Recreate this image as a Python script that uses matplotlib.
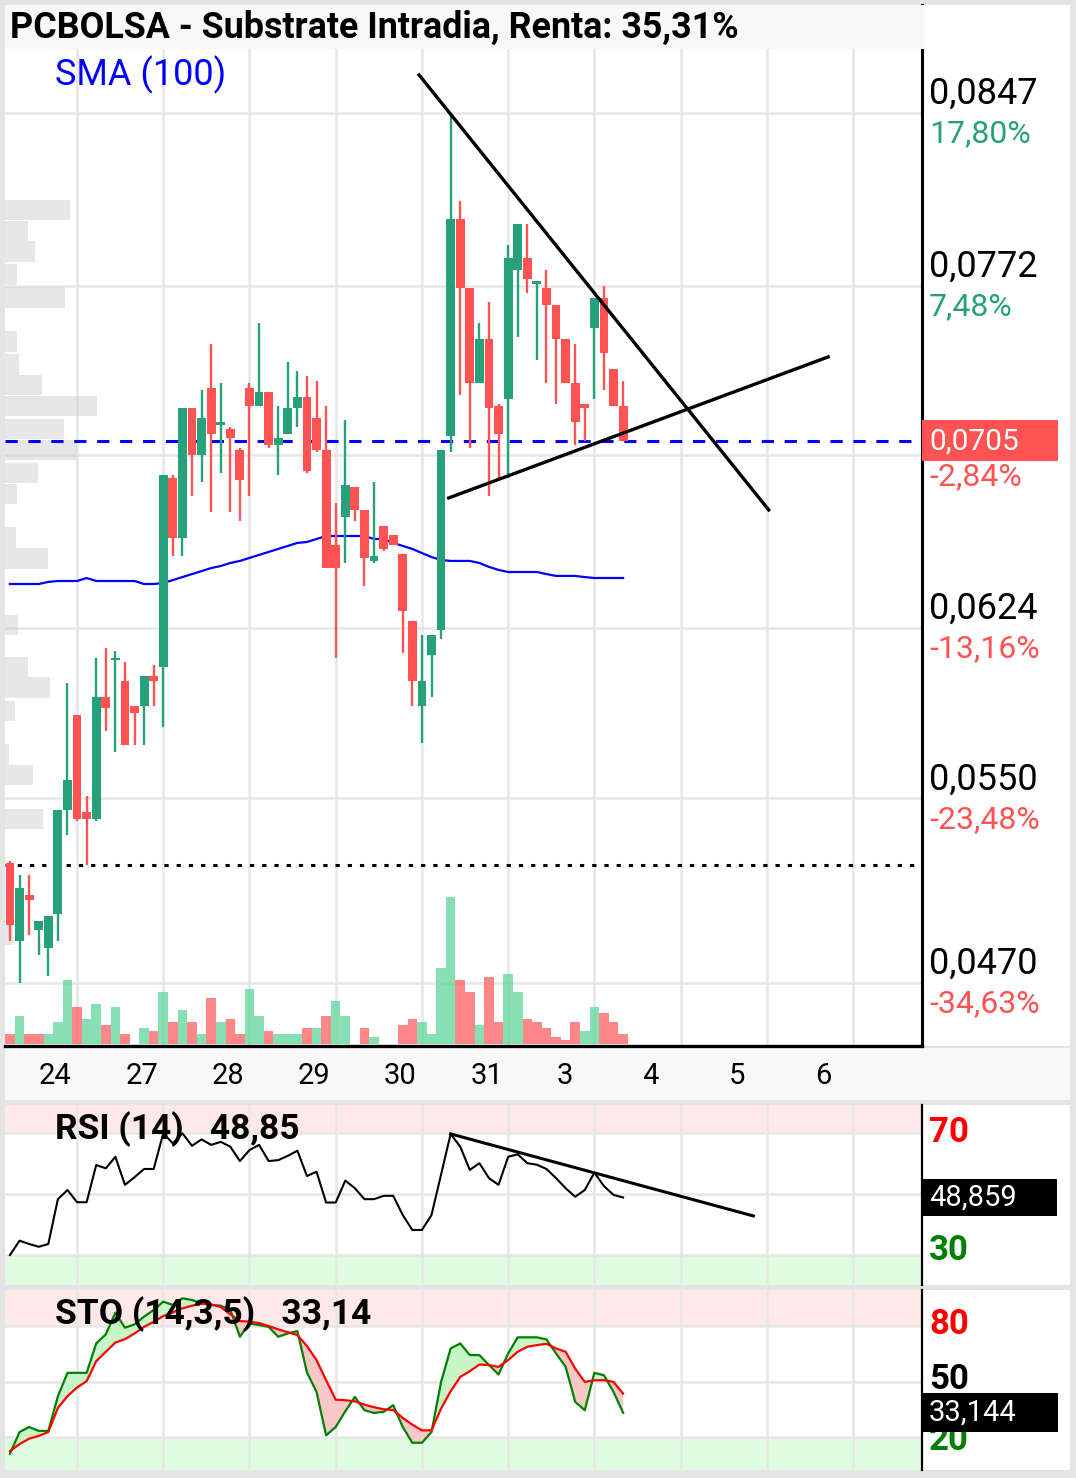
import matplotlib
matplotlib.use('Agg')
import matplotlib.pyplot as plt
import numpy as np
from matplotlib import font_manager
from matplotlib.patches import Rectangle
from matplotlib.transforms import blended_transform_factory

# ---------------- data ----------------
title = 'PCBOLSA - Substrate Intradia, Renta: 35,31%'

opens = [0.0522, 0.0488, 0.0508, 0.0493, 0.0485, 0.0500, 0.0545, 0.0586, 0.0544, 0.0541,
         0.0594, 0.0610, 0.0601, 0.0590, 0.0590, 0.0603, 0.0607, 0.0689, 0.0663, 0.0719,
         0.0699, 0.0728, 0.0712, 0.0710, 0.0701, 0.0728, 0.0720, 0.0726, 0.0703, 0.0708,
         0.0719, 0.0724, 0.0715, 0.0701, 0.0660, 0.0672, 0.0685, 0.0675, 0.0653, 0.0668,
         0.0664, 0.0656, 0.0627, 0.0590, 0.0612, 0.0623, 0.0707, 0.0801, 0.0771, 0.0730,
         0.0749, 0.0720, 0.0723, 0.0779, 0.0784, 0.0773, 0.0771, 0.0764, 0.0749, 0.0730,
         0.0721, 0.0754, 0.0767, 0.0736, 0.0720]
highs = [0.0523, 0.0517, 0.0517, 0.0497, 0.0499, 0.0545, 0.0600, 0.0586, 0.0551, 0.0611,
         0.0615, 0.0614, 0.0609, 0.0590, 0.0603, 0.0608, 0.0690, 0.0690, 0.0719, 0.0719,
         0.0727, 0.0747, 0.0730, 0.0711, 0.0702, 0.0730, 0.0756, 0.0726, 0.0720, 0.0739,
         0.0735, 0.0733, 0.0731, 0.0720, 0.0678, 0.0714, 0.0685, 0.0675, 0.0687, 0.0668,
         0.0664, 0.0656, 0.0627, 0.0621, 0.0621, 0.0701, 0.0847, 0.0809, 0.0771, 0.0756,
         0.0765, 0.0721, 0.0790, 0.0799, 0.0799, 0.0774, 0.0779, 0.0764, 0.0749, 0.0747,
         0.0721, 0.0767, 0.0772, 0.0736, 0.0731]
lows = [0.0488, 0.0470, 0.0491, 0.0482, 0.0473, 0.0488, 0.0534, 0.0540, 0.0521, 0.0540,
        0.0579, 0.0570, 0.0573, 0.0573, 0.0573, 0.0590, 0.0581, 0.0655, 0.0655, 0.0681,
        0.0687, 0.0674, 0.0691, 0.0674, 0.0670, 0.0681, 0.0720, 0.0702, 0.0690, 0.0708,
        0.0711, 0.0691, 0.0700, 0.0650, 0.0611, 0.0652, 0.0670, 0.0642, 0.0652, 0.0657,
        0.0660, 0.0613, 0.0590, 0.0574, 0.0594, 0.0619, 0.0700, 0.0725, 0.0702, 0.0730,
        0.0681, 0.0689, 0.0689, 0.0750, 0.0769, 0.0740, 0.0730, 0.0721, 0.0730, 0.0703,
        0.0705, 0.0723, 0.0727, 0.0720, 0.0705]
closes = [0.0495, 0.0511, 0.0506, 0.0497, 0.0499, 0.0545, 0.0558, 0.0541, 0.0541, 0.0594,
          0.0589, 0.0611, 0.0573, 0.0587, 0.0603, 0.0601, 0.0690, 0.0663, 0.0719, 0.0699,
          0.0715, 0.0708, 0.0713, 0.0706, 0.0688, 0.0720, 0.0726, 0.0703, 0.0706, 0.0719,
          0.0724, 0.0692, 0.0701, 0.0650, 0.0650, 0.0686, 0.0675, 0.0654, 0.0655, 0.0658,
          0.0660, 0.0631, 0.0601, 0.0601, 0.0621, 0.0701, 0.0801, 0.0771, 0.0730, 0.0749,
          0.0719, 0.0708, 0.0784, 0.0799, 0.0775, 0.0774, 0.0764, 0.0749, 0.0730, 0.0713,
          0.0719, 0.0767, 0.0743, 0.0720, 0.0705]
# volume in thousands of shares
volume = [10, 28, 10, 10, 10, 22, 64, 37, 25, 40,
          19, 37, 10, 0, 16, 13, 52, 22, 34, 22,
          10, 46, 22, 25, 10, 55, 28, 13, 10, 10,
          10, 16, 16, 28, 43, 28, 0, 16, 7, 0,
          0, 19, 25, 22, 10, 76, 147, 64, 52, 19,
          67, 22, 70, 52, 25, 22, 16, 7, 4, 22,
          13, 37, 31, 22, 10]
sma100 = [0.06429, 0.06429, 0.06429, 0.06429, 0.06438, 0.06442, 0.06442, 0.06442, 0.06455, 0.06442,
          0.06442, 0.06442, 0.06442, 0.06442, 0.06429, 0.06429, 0.06433, 0.06446, 0.06459, 0.06472,
          0.06485, 0.06498, 0.06507, 0.06520, 0.06529, 0.06542, 0.06555, 0.06568, 0.06581, 0.06594,
          0.06607, 0.06611, 0.06624, 0.06637, 0.06637, 0.06637, 0.06637, 0.06637, 0.06624, 0.06624,
          0.06607, 0.06594, 0.06581, 0.06563, 0.06546, 0.06533, 0.06529, 0.06529, 0.06529, 0.06520,
          0.06503, 0.06490, 0.06481, 0.06481, 0.06481, 0.06481, 0.06472, 0.06464, 0.06464, 0.06464,
          0.06459, 0.06455, 0.06455, 0.06455, 0.06455]
rsi = [30.0, 34.7, 33.6, 32.7, 33.6, 48.3, 51.3, 47.3, 47.3, 59.5,
       58.4, 62.2, 53.0, 55.5, 58.2, 58.2, 69.9, 66.6, 69.9, 65.8,
       67.9, 66.1, 67.1, 65.5, 60.8, 64.4, 66.1, 60.8, 61.1, 62.5,
       64.2, 55.9, 57.3, 47.2, 47.2, 54.4, 51.9, 48.3, 48.3, 49.4,
       49.4, 43.1, 38.2, 38.2, 43.1, 56.4, 69.7, 65.5, 57.9, 60.1,
       55.2, 53.0, 62.2, 63.0, 60.1, 59.6, 58.2, 55.2, 51.9, 49.1,
       51.3, 57.0, 52.6, 49.7, 48.86]
sto_k = [11.0, 22.7, 25.4, 23.3, 23.3, 42.0, 54.7, 54.7, 54.7, 70.6,
         75.5, 87.2, 79.1, 80.9, 85.1, 88.7, 93.2, 91.4, 95.0, 94.1,
         92.3, 91.4, 91.0, 88.7, 74.2, 81.4, 80.5, 79.6, 74.2, 76.0,
         77.3, 54.9, 44.4, 20.9, 25.4, 33.9, 41.7, 34.5, 33.0, 33.6,
         37.2, 25.4, 16.9, 16.9, 22.7, 49.8, 67.9, 70.6, 64.3, 64.3,
         58.9, 53.8, 65.2, 73.9, 73.9, 73.9, 72.8, 65.2, 58.0, 39.0,
         34.5, 54.7, 53.4, 44.4, 33.1]
sto_d = [12.4, 16.2, 19.1, 20.6, 22.7, 35.7, 42.1, 46.8, 50.2, 61.0,
         66.1, 71.1, 72.9, 76.0, 79.6, 82.3, 85.4, 87.4, 89.6, 91.0,
         92.1, 91.7, 90.3, 86.3, 82.7, 82.4, 81.6, 80.0, 78.2, 76.7,
         75.1, 69.2, 61.6, 50.7, 40.2, 39.9, 39.3, 37.5, 36.1, 35.0,
         34.6, 30.3, 26.7, 23.6, 23.6, 35.4, 44.8, 52.5, 55.6, 59.2,
         58.9, 57.9, 61.6, 66.1, 68.8, 69.7, 70.4, 67.9, 66.1, 57.0,
         49.8, 50.7, 50.7, 49.8, 43.5]

# volume profile (price level -> traded volume)
profile_prices = [0.0805, 0.0796, 0.0787, 0.0777, 0.0767, 0.0748, 0.0738, 0.0729, 0.0720, 0.0710,
                  0.0701, 0.0691, 0.0682, 0.0663, 0.0654, 0.0625, 0.0607, 0.0598, 0.0588, 0.0569,
                  0.0560, 0.0541, 0.0491]
profile_vol = [65, 23, 30, 12, 60, 12, 14, 37, 92, 59,
               72, 33, 12, 11, 43, 13, 23, 45, 10, 4,
               28, 38, 8]

day_labels = ['24', '27', '28', '29', '30', '31', '3', '4', '5', '6']
day_ticks = [7, 16, 25, 34, 43, 52, 61, 70, 79, 88]

grid_prices = [0.0847, 0.0772, 0.06986, 0.0624, 0.0550, 0.0470]
# the 0,0699 label sits under the current-price box, so it is not shown
price_labels = ['0,0847', '0,0772', '', '0,0624', '0,0550', '0,0470']
pct_labels = ['17,80%', '7,48%', '-2,84%', '-13,16%', '-23,48%', '-34,63%']

last_price = 0.0705
ref_price = 0.0521
rsi_label, last_rsi = '48,85', 48.859
sto_label, last_sto = '33,14', 33.144

# hand drawn trend lines (candle index, value)
tl_down_x, tl_down_y = [42.7, 79.2], [0.08635, 0.06750]
tl_up_x, tl_up_y = [45.8, 85.4], [0.06802, 0.07413]
rsi_tl_x, rsi_tl_y = [46.0, 77.6], [69.7, 42.8]

# ---------------- style ----------------
installed = {f.name for f in font_manager.fontManager.ttflist}
REG = 'Roboto' if 'Roboto' in installed else 'DejaVu Sans'

GREEN = '#26a17b'
RED = '#ff5252'
GRID = '#e6e6e6'

W, H = 1076, 1478
fig = plt.figure(figsize=(W / 100, H / 100), dpi=100, facecolor='#e4e4e4')


def box(x0, y0, x1, y1):
    # pixel box (top-left origin) -> figure fraction
    return [x0 / W, 1 - y1 / H, (x1 - x0) / W, (y1 - y0) / H]


def fig_rect(x0, y0, x1, y1, color, z=-5):
    fig.add_artist(Rectangle((x0 / W, 1 - y1 / H), (x1 - x0) / W, (y1 - y0) / H,
                             transform=fig.transFigure, facecolor=color,
                             edgecolor='none', zorder=z))


# panel backgrounds
fig_rect(5, 5, 1070, 1046, 'white')
fig_rect(5, 1048, 1070, 1100, '#f8f8f8')
fig_rect(5, 1105, 1070, 1285, 'white')
fig_rect(5, 1290, 1070, 1470, 'white')

x = np.arange(len(closes))
o, h, l, c = map(np.array, (opens, highs, lows, closes))


def style_panel(a, yticks):
    a.set_facecolor('none')
    a.set_yticks(yticks)
    a.set_xticks(day_ticks)
    a.tick_params(length=0, labelbottom=False, labelleft=False)
    a.grid(color=GRID, lw=1.8)
    a.set_axisbelow(True)
    for s in ['top', 'left', 'bottom']:
        a.spines[s].set_visible(False)
    a.spines['right'].set_color('black')
    a.spines['right'].set_linewidth(1.6)


def right_label(a, text, y, dy=0, **kw):
    a.annotate(text, xy=(1, y), xycoords=('axes fraction', 'data'), xytext=(7, dy),
               textcoords='offset pixels', ha='left', va='center', family=REG,
               annotation_clip=False, **kw)


# ---------------- main price panel ----------------
ax = fig.add_axes(box(5, 5, 922, 1046))
style_panel(ax, grid_prices)
ax.set_xlim(-0.52, 95.2)
ax.set_ylim(0.04427, 0.08938)
ax.spines['right'].set_linewidth(2.2)
ax.spines['bottom'].set_visible(True)
ax.spines['bottom'].set_color('black')
ax.spines['bottom'].set_linewidth(2.4)

# volume profile on the left
axp = ax.inset_axes([0, 0, 1, 1], sharey=ax)
axp.set_xlim(0, 917)
axp.axis('off')
axp.patch.set_visible(False)
axp.set_zorder(1.2)
axp.barh(profile_prices, profile_vol, height=0.00088, left=0, color='#c4c4c4', alpha=0.4)

# volume bars at the bottom
axv = ax.inset_axes([0, 0, 1, 1], sharex=ax)
axv.set_ylim(-2, 1039)
axv.axis('off')
axv.patch.set_visible(False)
axv.set_zorder(1.5)
prev = np.r_[o[0], c[:-1]]
vcol = np.where(c >= prev, '#5ed69b', '#ff5f5f')
axv.bar(x, volume, width=1.0, color=vcol, alpha=0.75)

# SMA and reference lines
ax.plot(x, sma100, color='#0000ff', lw=1.6, zorder=2.5)
ax.axhline(last_price, color='#0000ff', lw=2.2, ls=(0, (4, 3.5)), zorder=2.6)
ax.axhline(ref_price, color='black', lw=2.2, ls=(0, (1.4, 2.6)), zorder=2.6)

# candles
ccol = np.where(c >= o, GREEN, RED)
ax.vlines(x, l, h, colors=ccol, lw=1.7, zorder=3)
body = np.maximum(np.abs(c - o), 0.00008)
ax.bar(x, body, bottom=np.minimum(o, c), width=0.92, color=ccol, zorder=4)

# trend lines
ax.plot(tl_down_x, tl_down_y, color='black', lw=2.4, zorder=6)
ax.plot(tl_up_x, tl_up_y, color='black', lw=2.4, zorder=6)

# right axis labels
for p, lab, pct in zip(grid_prices, price_labels, pct_labels):
    if lab:
        right_label(ax, lab, p, dy=19, fontsize=26, color='black')
    right_label(ax, pct, p, dy=-21, fontsize=23,
                color=RED if pct.startswith('-') else GREEN)

tb = blended_transform_factory(fig.transFigure, ax.transData)
ax.add_patch(Rectangle((922 / W, last_price - 0.00089), 136 / W, 0.00178, transform=tb,
                       facecolor=RED, edgecolor='none', clip_on=False, zorder=10))
right_label(ax, f'{last_price:.4f}'.replace('.', ','), last_price, dy=-1,
            fontsize=21.5, color='white', zorder=11)

# day labels
for lab, t in zip(day_labels, day_ticks):
    ax.annotate(lab, xy=(t, 0), xycoords=('data', 'axes fraction'), xytext=(-38, -30),
                textcoords='offset pixels', ha='left', va='center', fontsize=21,
                family=REG, annotation_clip=False)

# ---------------- RSI panel ----------------
axr = fig.add_axes(box(5, 1105, 922, 1285), sharex=ax)
style_panel(axr, [30, 50, 70])
axr.set_ylim(20.16, 79.18)
axr.axhspan(70, 100, color='#ffe8e8', zorder=0.2, lw=0)
axr.axhspan(0, 30, color='#e0fce0', zorder=0.2, lw=0)
axr.plot(x, rsi, color='black', lw=1.5, zorder=3)
axr.plot(rsi_tl_x, rsi_tl_y, color='black', lw=2.2, zorder=3)
axr.annotate('RSI (14)   ' + rsi_label, xy=(0, 1), xycoords='axes fraction',
             xytext=(50, -24), textcoords='offset pixels', ha='left', va='center',
             fontsize=25.5, fontweight='bold', family=REG, zorder=5)
right_label(axr, '70', 70, fontsize=25, fontweight='bold', color='#ff0000')
right_label(axr, '30', 30, dy=4, fontsize=25, fontweight='bold', color='#008000')
tr = blended_transform_factory(fig.transFigure, axr.transData)
axr.add_patch(Rectangle((922 / W, last_rsi - 6.2), 135 / W, 12.4, transform=tr,
                        facecolor='black', edgecolor='none', clip_on=False, zorder=10))
right_label(axr, f'{last_rsi:.3f}'.replace('.', ','), last_rsi, fontsize=21,
            color='white', zorder=11)

# ---------------- Stochastic panel ----------------
axs = fig.add_axes(box(5, 1290, 922, 1470), sharex=ax)
style_panel(axs, [20, 50, 80])
axs.set_ylim(2.16, 99.5)
axs.axhspan(80, 110, color='#ffe8e8', zorder=0.2, lw=0)
axs.axhspan(-10, 20, color='#e0fce0', zorder=0.2, lw=0)
k, d = np.array(sto_k), np.array(sto_d)
axs.fill_between(x, k, d, where=k >= d, interpolate=True, color='#c8f5c8', lw=0, zorder=2)
axs.fill_between(x, k, d, where=k < d, interpolate=True, color='#f8c8c8', lw=0, zorder=2)
axs.plot(x, k, color='#008000', lw=1.6, zorder=3)
axs.plot(x, d, color='#ff0000', lw=1.6, zorder=3)
axs.annotate('STO (14,3,5)   ' + sto_label, xy=(0, 1), xycoords='axes fraction',
             xytext=(50, -24), textcoords='offset pixels', ha='left', va='center',
             fontsize=25.5, fontweight='bold', family=REG, zorder=5)
right_label(axs, '80', 80, dy=2, fontsize=25, fontweight='bold', color='#ff0000')
right_label(axs, '50', 50, dy=2, fontsize=25, fontweight='bold', color='black')
right_label(axs, '20', 20, dy=-3, fontsize=25, fontweight='bold', color='#008000')
ts = blended_transform_factory(fig.transFigure, axs.transData)
axs.add_patch(Rectangle((922 / W, last_sto - 10.5), 136 / W, 21.0, transform=ts,
                        facecolor='black', edgecolor='none', clip_on=False, zorder=10))
right_label(axs, f'{last_sto:.3f}'.replace('.', ','), last_sto, fontsize=21,
            color='white', zorder=11)

# ---------------- header ----------------
fig_rect(5, 5, 924, 49, '#f8f8f8', z=5)
fig.text(10 / W, 1 - 28 / H, title, ha='left', va='center', fontsize=25.8,
         fontweight='bold', family=REG, zorder=6)
fig.text(55 / W, 1 - 75 / H, 'SMA (100)', ha='left', va='center', fontsize=26,
         family=REG, color='#0000ff', zorder=6)

fig.savefig('out.png', dpi=100, facecolor=fig.get_facecolor())
